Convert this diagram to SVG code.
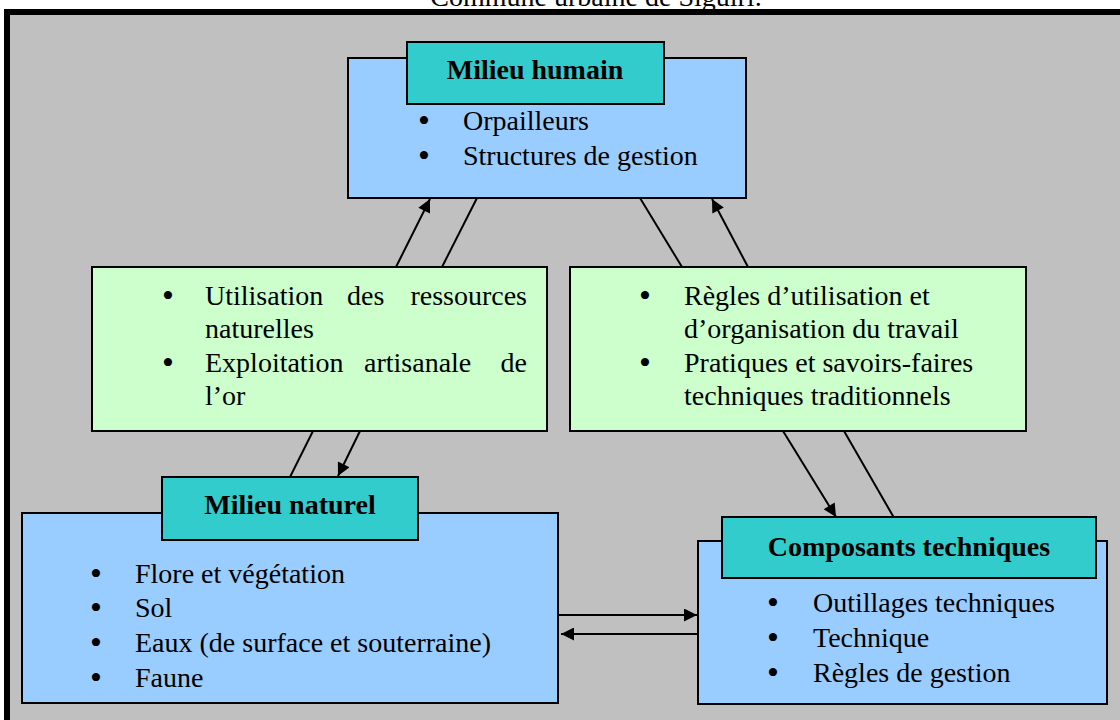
<svg xmlns="http://www.w3.org/2000/svg" width="1120" height="720" viewBox="0 0 1120 720">
<defs>
<style>
text{font-family:"Liberation Serif","Times New Roman",serif;font-size:28px;fill:#000}
.t{font-weight:bold;text-anchor:middle}
.b{text-anchor:middle;font-size:34px}
.cap{text-anchor:middle}
.blue{fill:#99ccff;stroke:#000;stroke-width:2}
.green{fill:#ccffcc;stroke:#000;stroke-width:2}
.title{fill:#33cccc;stroke:#000;stroke-width:2}
.c{stroke:#000;stroke-width:2;fill:none}
</style>
<marker id="ah" viewBox="0 0 10 10" refX="10" refY="5" markerWidth="15" markerHeight="13" markerUnits="userSpaceOnUse" orient="auto">
<path d="M0,0 L10,5 L0,10 Z" fill="#000"/>
</marker>
</defs>
<rect x="0" y="0" width="1120" height="720" fill="#fff"/>
<text x="596" y="6" class="cap">Commune urbaine de Siguiri.</text>
<rect x="7" y="12" width="1200" height="800" fill="#c0c0c0" stroke="#000" stroke-width="6"/>

<g id="connectors">
<line class="c" x1="396" y1="267" x2="430" y2="199" marker-end="url(#ah)"/>
<line class="c" x1="442" y1="267" x2="477" y2="198"/>
<line class="c" x1="640" y1="198" x2="682" y2="267"/>
<line class="c" x1="748" y1="267" x2="712" y2="199" marker-end="url(#ah)"/>
<line class="c" x1="313" y1="431" x2="290" y2="477"/>
<line class="c" x1="360" y1="431" x2="338" y2="476" marker-end="url(#ah)"/>
<line class="c" x1="783" y1="431" x2="836" y2="517" marker-end="url(#ah)"/>
<line class="c" x1="844" y1="431" x2="897" y2="523"/>
<line class="c" x1="559" y1="615" x2="697" y2="615" marker-end="url(#ah)"/>
<line class="c" x1="701" y1="634" x2="561" y2="634" marker-end="url(#ah)"/>
</g>

<g id="milieu-humain">
<rect class="blue" x="348" y="58" width="398" height="140"/>
<rect class="title" x="407" y="42" width="257" height="62"/>
<text x="535" y="79" class="t">Milieu humain</text>
<text x="424" y="132" class="b">•</text><text x="463" y="130">Orpailleurs</text>
<text x="424" y="167" class="b">•</text><text x="463" y="165">Structures de gestion</text>
</g>

<g id="utilisation">
<rect class="green" x="92" y="267" width="455" height="164"/>
<text x="168" y="307" class="b">•</text>
<text y="305"><tspan x="205">Utilisation</tspan><tspan x="347">des</tspan><tspan x="527" text-anchor="end">ressources</tspan></text>
<text x="205" y="338">naturelles</text>
<text x="168" y="374" class="b">•</text>
<text y="372"><tspan x="205">Exploitation</tspan><tspan x="364">artisanale</tspan><tspan x="527" text-anchor="end">de</tspan></text>
<text x="205" y="405">l’or</text>
</g>

<g id="regles">
<rect class="green" x="570" y="267" width="456" height="164"/>
<text x="645" y="307" class="b">•</text><text x="684" y="305">Règles d’utilisation et</text>
<text x="684" y="338">d’organisation du travail</text>
<text x="645" y="374" class="b">•</text><text x="684" y="372">Pratiques et savoirs-faires</text>
<text x="684" y="405">techniques traditionnels</text>
</g>

<g id="milieu-naturel">
<rect class="blue" x="22" y="513" width="536" height="190"/>
<rect class="title" x="162" y="477" width="256" height="63"/>
<text x="290" y="514" class="t">Milieu naturel</text>
<text x="96" y="585" class="b">•</text><text x="135" y="583">Flore et végétation</text>
<text x="96" y="619" class="b">•</text><text x="135" y="617">Sol</text>
<text x="96" y="654" class="b">•</text><text x="135" y="652">Eaux (de surface et souterraine)</text>
<text x="96" y="689" class="b">•</text><text x="135" y="687">Faune</text>
</g>

<g id="composants-techniques">
<rect class="blue" x="698" y="541" width="409" height="163"/>
<rect class="title" x="722" y="517" width="374" height="61"/>
<text x="909" y="556" class="t">Composants techniques</text>
<text x="773" y="614" class="b">•</text><text x="813" y="612">Outillages techniques</text>
<text x="773" y="649" class="b">•</text><text x="813" y="647">Technique</text>
<text x="773" y="684" class="b">•</text><text x="813" y="682">Règles de gestion</text>
</g>
</svg>
